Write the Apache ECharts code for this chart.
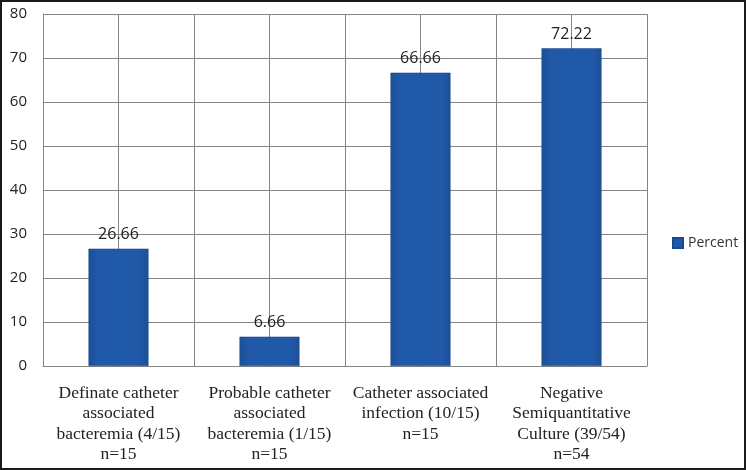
<!DOCTYPE html>
<html>
<head>
<meta charset="utf-8">
<script src="https://cdn.jsdelivr.net/npm/echarts@6/dist/echarts.min.js"></script>
<style>
html,body{margin:0;padding:0;background:#fff;}
#c{width:746px;height:470px;}
</style>
</head>
<body>
<div id="c"></div>
<script>
const categories = [
  "Definate catheter\nassociated\nbacteremia (4/15)\nn=15",
  "Probable catheter\nassociated\nbacteremia (1/15)\nn=15",
  "Catheter associated\ninfection (10/15)\nn=15",
  "Negative\nSemiquantitative\nCulture (39/54)\nn=54"
];
const percentValues = [26.66, 6.66, 66.66, 72.22];
const seriesName = "Percent";

const chart = echarts.init(document.getElementById('c'), null, {renderer: 'canvas'});
chart.setOption({
  animation: false,
  backgroundColor: '#fff',
  graphic: [{
    type: 'rect', silent: true, z: 100,
    shape: {x: 1, y: 1, width: 744, height: 468},
    style: {fill: 'none', stroke: '#1a1a1a', lineWidth: 2}
  }],
  grid: {left: 43, right: 99, top: 14, bottom: 104, containLabel: false},
  legend: {
    data: [seriesName],
    orient: 'vertical',
    left: 667, top: 231,
    itemWidth: 10, itemHeight: 10,
    itemGap: 4,
    icon: 'rect',
    textStyle: {fontFamily: 'Open Sans, Liberation Sans, sans-serif', fontSize: 14, color: '#333'}
  },
  xAxis: [{
    type: 'category',
    data: categories,
    axisLine: {show: true, lineStyle: {color: '#858585', width: 1}},
    axisTick: {show: false},
    splitLine: {show: false},
    axisLabel: {
      interval: 0,
      margin: 17,
      fontFamily: 'Liberation Serif, Times New Roman, serif',
      fontSize: 17.5,
      lineHeight: 20.5,
      color: '#222',
      align: 'center'
    }
  }, {
    type: 'value',
    min: 0, max: 8, interval: 1,
    position: 'top',
    axisLine: {show: false},
    axisTick: {show: false},
    axisLabel: {show: false},
    splitLine: {show: true, lineStyle: {color: '#858585', width: 1}}
  }],
  yAxis: {
    type: 'value',
    min: 0, max: 80, interval: 10,
    axisLine: {show: true, lineStyle: {color: '#858585', width: 1}},
    axisTick: {show: false},
    axisLabel: {
      margin: 16,
      fontFamily: 'Open Sans, Liberation Sans, sans-serif',
      fontSize: 15,
      color: '#222'
    },
    splitLine: {show: true, lineStyle: {color: '#858585', width: 1}}
  },
  series: [{
    name: seriesName,
    type: 'bar',
    xAxisIndex: 0,
    data: percentValues,
    barWidth: 60,
    z: 5,
    itemStyle: {
      color: new echarts.graphic.LinearGradient(0, 0, 1, 0, [
        {offset: 0, color: '#1c4f97'},
        {offset: 0.15, color: '#2059a8'},
        {offset: 0.85, color: '#2059a8'},
        {offset: 1, color: '#1c4f97'}
      ]),
      borderColor: '#1b4a8c',
      borderWidth: 0.5
    },
    label: {
      show: true,
      position: 'top',
      distance: 6,
      formatter: function(p){ return p.value.toFixed(2); },
      fontFamily: 'Open Sans, Liberation Sans, sans-serif',
      fontSize: 16,
      color: '#222'
    }
  }]
});
</script>
</body>
</html>
